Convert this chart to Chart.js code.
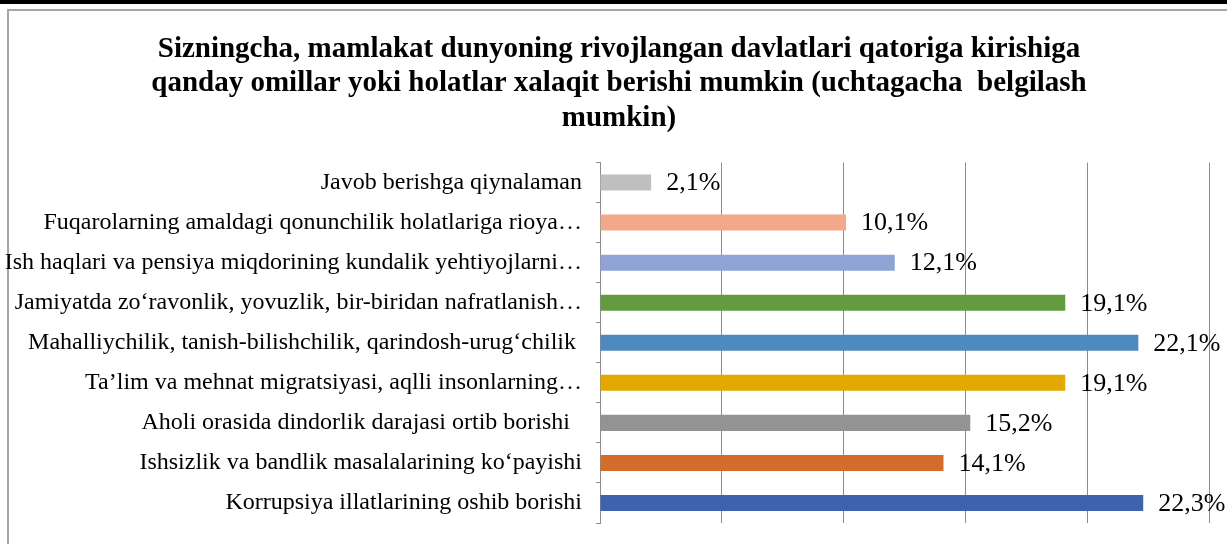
<!DOCTYPE html>
<html>
<head>
<meta charset="utf-8">
<script src="https://cdn.jsdelivr.net/npm/chart.js@4"></script>
<style>
  html, body { margin: 0; padding: 0; background: #fff; overflow: hidden; }
  #wrap { position: relative; width: 1227px; height: 544px; }
  #topbar { position: absolute; left: 0; top: 0; width: 1227px; height: 4px; background: #000; }
  #frame { position: absolute; left: 7px; top: 9px; width: 1240px; height: 560px; border: 2px solid #a6a6a6; }
  #graficoBarras { position: absolute; left: 0; top: 0; }
</style>
</head>
<body>
<div id="wrap">
  <div id="topbar"></div>
  <div id="frame"></div>
  <canvas id="graficoBarras" width="1227" height="544"></canvas>
</div>
<script>
// ----------- DADOS -----------
const titulo = [
  "Sizningcha, mamlakat dunyoning rivojlangan davlatlari qatoriga kirishiga",
  "qanday omillar yoki holatlar xalaqit berishi mumkin (uchtagacha  belgilash",
  "mumkin)"
];

const categorias = [
  "Javob berishga qiynalaman",
  "Fuqarolarning amaldagi qonunchilik holatlariga rioya…",
  "Ish haqlari va pensiya miqdorining kundalik yehtiyojlarni…",
  "Jamiyatda zo‘ravonlik, yovuzlik, bir-biridan nafratlanish…",
  "Mahalliychilik, tanish-bilishchilik, qarindosh-urug‘chilik ",
  "Ta’lim va mehnat migratsiyasi, aqlli insonlarning…",
  "Aholi orasida dindorlik darajasi ortib borishi  ",
  "Ishsizlik va bandlik masalalarining ko‘payishi",
  "Korrupsiya illatlarining oshib borishi"
];

const valores = [2.1, 10.1, 12.1, 19.1, 22.1, 19.1, 15.2, 14.1, 22.3];

const cores = [
  "#bfbfbf", "#f1a88b", "#8fa4d4", "#629b40", "#4f8abe",
  "#e2a900", "#939393", "#d46d2b", "#3d63ad"
];

// rótulos de valor no fim de cada barra
const rotulos = {
  id: "rotulos",
  afterLayout(chart) {
    // deixa os rótulos do eixo y usarem a margem esquerda (sem corte)
    chart.scales.y.left = 0;
  },
  afterDatasetsDraw(chart) {
    const ctx = chart.ctx;
    const meta = chart.getDatasetMeta(0);
    ctx.save();
    ctx.font = "26px 'Liberation Serif'";
    ctx.fillStyle = "#000";
    ctx.textAlign = "left";
    ctx.textBaseline = "middle";
    meta.data.forEach((bar, i) => {
      const txt = valores[i].toFixed(1).replace(".", ",") + "%";
      ctx.fillText(txt, bar.x + 15, bar.y + 1);
    });
    ctx.restore();
  }
};

document.addEventListener("DOMContentLoaded", () => {
  new Chart(document.getElementById("graficoBarras"), {
    type: "bar",
    data: {
      labels: categorias,
      datasets: [{
        data: valores,
        backgroundColor: cores,
        barPercentage: 0.4,
        categoryPercentage: 1.0
      }]
    },
    options: {
      indexAxis: "y",
      responsive: false,
      animation: false,
      layout: { padding: { left: 29, right: 18, top: 0, bottom: 21 } },
      plugins: {
        legend: { display: false },
        tooltip: { enabled: false },
        title: {
          display: true,
          text: titulo,
          color: "#000",
          font: { family: "'Liberation Serif'", size: 29, weight: "bold", lineHeight: 1.19 },
          padding: { top: 32, bottom: 27 }
        }
      },
      scales: {
        x: {
          min: 0,
          max: 25,
          ticks: { display: false, stepSize: 5 },
          grid: { color: "#8c8c8c", drawTicks: false },
          border: { display: false }
        },
        y: {
          afterFit(scale) { scale.width = 571; },
          ticks: {
            color: "#000",
            padding: 14,
            autoSkip: false,
            font: { family: "'Liberation Serif'", size: 24, lineHeight: 0.5 }
          },
          grid: { offset: true, drawOnChartArea: false, drawTicks: true, tickLength: 4, color: "#8c8c8c" },
          border: { display: true, color: "#8c8c8c" }
        }
      }
    },
    plugins: [rotulos]
  });
});
</script>
</body>
</html>
